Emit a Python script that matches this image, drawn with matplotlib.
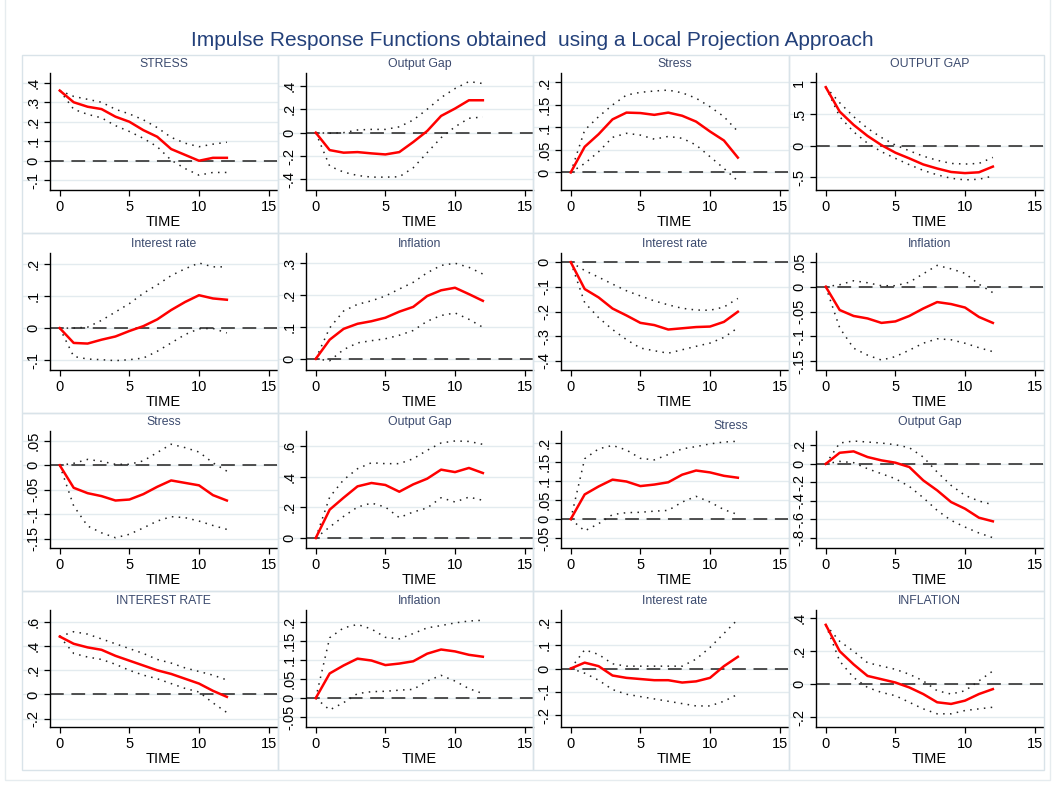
import matplotlib.pyplot as plt
import numpy as np
from matplotlib.patches import Rectangle
from matplotlib.ticker import FuncFormatter

plt.rcParams['font.family'] = ['Liberation Sans', 'DejaVu Sans']

# horizon
time = list(range(13))

# row 1
r1c1_mid = [0.36, 0.30, 0.277, 0.265, 0.226, 0.20, 0.157, 0.123, 0.06, 0.03, 0.0, 0.015, 0.015]
r1c1_hi = [0.36, 0.33, 0.315, 0.30, 0.264, 0.24, 0.21, 0.17, 0.12, 0.09, 0.072, 0.085, 0.095]
r1c1_lo = [0.36, 0.264, 0.238, 0.22, 0.18, 0.15, 0.115, 0.072, 0.003, -0.04, -0.074, -0.06, -0.06]

r1c2_mid = [0.0, -0.149, -0.171, -0.166, -0.177, -0.186, -0.166, -0.08, 0.014, 0.143, 0.206, 0.277, 0.277]
r1c2_hi = [0.0, -0.005, 0.0, 0.023, 0.028, 0.028, 0.05, 0.108, 0.2, 0.3, 0.377, 0.437, 0.42]
r1c2_lo = [0.0, -0.286, -0.337, -0.366, -0.38, -0.38, -0.377, -0.3, -0.171, -0.043, 0.05, 0.123, 0.134]

r1c3_mid = [0.0, 0.057, 0.085, 0.118, 0.133, 0.132, 0.128, 0.133, 0.126, 0.113, 0.091, 0.071, 0.033]
r1c3_hi = [0.0, 0.094, 0.124, 0.15, 0.172, 0.178, 0.181, 0.183, 0.177, 0.165, 0.146, 0.124, 0.091]
r1c3_lo = [0.0, 0.02, 0.046, 0.078, 0.087, 0.083, 0.074, 0.08, 0.076, 0.061, 0.035, 0.009, -0.019]

r1c4_mid = [0.926, 0.54, 0.33, 0.155, 0.01, -0.11, -0.2, -0.296, -0.36, -0.415, -0.433, -0.42, -0.33]
r1c4_hi = [0.93, 0.68, 0.46, 0.275, 0.13, 0.01, -0.08, -0.165, -0.23, -0.28, -0.29, -0.28, -0.185]
r1c4_lo = [0.93, 0.46, 0.22, 0.04, -0.095, -0.2, -0.3, -0.39, -0.46, -0.515, -0.54, -0.53, -0.48]

# row 2
r2c1_mid = [0.0, -0.046, -0.048, -0.036, -0.026, -0.009, 0.006, 0.027, 0.056, 0.081, 0.102, 0.092, 0.088]
r2c1_hi = [0.0, 0.0, 0.003, 0.024, 0.05, 0.076, 0.108, 0.134, 0.163, 0.184, 0.202, 0.19, 0.19]
r2c1_lo = [0.0, -0.088, -0.096, -0.098, -0.101, -0.098, -0.093, -0.072, -0.046, -0.02, -0.002, -0.001, -0.015]

r2c2_mid = [0.0, 0.06, 0.094, 0.11, 0.118, 0.129, 0.148, 0.163, 0.197, 0.215, 0.223, 0.203, 0.182]
r2c2_hi = [0.0, 0.097, 0.15, 0.171, 0.182, 0.197, 0.219, 0.24, 0.27, 0.293, 0.3, 0.287, 0.266]
r2c2_lo = [0.0, -0.006, 0.029, 0.05, 0.057, 0.063, 0.074, 0.089, 0.118, 0.136, 0.144, 0.124, 0.099]

r2c3_mid = [0.0, -0.109, -0.143, -0.188, -0.216, -0.246, -0.255, -0.273, -0.268, -0.263, -0.261, -0.242, -0.201]
r2c3_hi = [0.0, -0.034, -0.061, -0.089, -0.116, -0.137, -0.157, -0.173, -0.187, -0.194, -0.195, -0.182, -0.147]
r2c3_lo = [0.0, -0.164, -0.225, -0.273, -0.314, -0.348, -0.359, -0.369, -0.355, -0.341, -0.328, -0.305, -0.266]

r2c4_mid = [0.0, -0.047, -0.059, -0.064, -0.073, -0.07, -0.059, -0.044, -0.031, -0.035, -0.042, -0.061, -0.073]
r2c4_hi = [0.0, 0.004, 0.012, 0.008, 0.002, 0.002, 0.009, 0.026, 0.043, 0.036, 0.027, 0.005, -0.012]
r2c4_lo = [0.0, -0.083, -0.124, -0.138, -0.148, -0.141, -0.128, -0.114, -0.105, -0.107, -0.114, -0.123, -0.131]

# row 3
r3c1_mid = [0.0, -0.046, -0.057, -0.063, -0.072, -0.07, -0.059, -0.044, -0.031, -0.036, -0.041, -0.061, -0.072]
r3c1_hi = [0.0, 0.004, 0.012, 0.008, 0.002, 0.002, 0.009, 0.026, 0.043, 0.036, 0.027, 0.005, -0.012]
r3c1_lo = [0.0, -0.083, -0.124, -0.138, -0.148, -0.141, -0.128, -0.114, -0.105, -0.107, -0.114, -0.123, -0.131]

r3c2_mid = [0.0, 0.185, 0.263, 0.337, 0.359, 0.346, 0.302, 0.35, 0.387, 0.446, 0.43, 0.457, 0.424]
r3c2_hi = [0.0, 0.267, 0.38, 0.452, 0.491, 0.485, 0.485, 0.517, 0.572, 0.62, 0.633, 0.63, 0.611]
r3c2_lo = [0.0, 0.072, 0.141, 0.202, 0.228, 0.202, 0.133, 0.17, 0.196, 0.263, 0.235, 0.267, 0.246]

r3c3_mid = [0.0, 0.065, 0.086, 0.104, 0.099, 0.087, 0.091, 0.097, 0.117, 0.128, 0.123, 0.114, 0.109]
r3c3_hi = [0.0, 0.159, 0.185, 0.194, 0.182, 0.16, 0.156, 0.17, 0.185, 0.191, 0.198, 0.203, 0.205]
r3c3_lo = [0.0, -0.031, -0.012, 0.012, 0.017, 0.018, 0.021, 0.023, 0.045, 0.06, 0.045, 0.025, 0.012]

r3c4_mid = [0.0, 0.12, 0.135, 0.074, 0.038, 0.013, -0.034, -0.178, -0.286, -0.412, -0.484, -0.581, -0.62]
r3c4_hi = [0.0, 0.225, 0.247, 0.236, 0.225, 0.207, 0.175, 0.074, -0.088, -0.232, -0.34, -0.401, -0.441]
r3c4_lo = [0.0, 0.027, 0.013, -0.052, -0.106, -0.16, -0.243, -0.365, -0.502, -0.61, -0.682, -0.746, -0.797]

# row 4
r4c1_mid = [0.48, 0.42, 0.39, 0.37, 0.32, 0.28, 0.24, 0.20, 0.17, 0.13, 0.09, 0.03, -0.02]
r4c1_hi = [0.48, 0.52, 0.50, 0.46, 0.42, 0.38, 0.34, 0.29, 0.26, 0.22, 0.19, 0.16, 0.12]
r4c1_lo = [0.48, 0.34, 0.31, 0.29, 0.25, 0.20, 0.16, 0.13, 0.09, 0.05, 0.02, -0.07, -0.15]

r4c2_mid = [0.0, 0.065, 0.086, 0.104, 0.099, 0.087, 0.091, 0.097, 0.117, 0.128, 0.123, 0.114, 0.109]
r4c2_hi = [0.0, 0.159, 0.185, 0.194, 0.182, 0.16, 0.156, 0.17, 0.185, 0.191, 0.198, 0.203, 0.205]
r4c2_lo = [0.0, -0.031, -0.012, 0.012, 0.017, 0.018, 0.021, 0.023, 0.045, 0.06, 0.045, 0.025, 0.012]

r4c3_mid = [0.0, 0.025, 0.01, -0.03, -0.04, -0.045, -0.05, -0.05, -0.06, -0.055, -0.04, 0.01, 0.05]
r4c3_hi = [0.0, 0.08, 0.06, 0.02, 0.01, 0.01, 0.01, 0.01, 0.01, 0.04, 0.09, 0.15, 0.21]
r4c3_lo = [0.0, -0.02, -0.05, -0.09, -0.11, -0.12, -0.13, -0.14, -0.15, -0.16, -0.16, -0.14, -0.11]

r4c4_mid = [0.36, 0.2, 0.12, 0.05, 0.03, 0.01, -0.02, -0.06, -0.11, -0.12, -0.1, -0.06, -0.03]
r4c4_hi = [0.36, 0.26, 0.2, 0.13, 0.11, 0.09, 0.06, 0.02, -0.04, -0.06, -0.04, 0.02, 0.08]
r4c4_lo = [0.36, 0.14, 0.04, -0.02, -0.05, -0.07, -0.11, -0.15, -0.18, -0.18, -0.16, -0.15, -0.14]

titles = [['STRESS', 'Output Gap', 'Stress', 'OUTPUT GAP'],
          ['Interest rate', 'Inflation', 'Interest rate', 'Inflation'],
          ['Stress', 'Output Gap', 'Stress', 'Output Gap'],
          ['INTEREST RATE', 'Inflation', 'Interest rate', 'INFLATION']]

yticks = [[[-0.1, 0, 0.1, 0.2, 0.3, 0.4], [-0.4, -0.2, 0, 0.2, 0.4],
           [0, 0.05, 0.1, 0.15, 0.2], [-0.5, 0, 0.5, 1]],
          [[-0.1, 0, 0.1, 0.2], [0, 0.1, 0.2, 0.3],
           [-0.4, -0.3, -0.2, -0.1, 0], [-0.15, -0.1, -0.05, 0, 0.05]],
          [[-0.15, -0.1, -0.05, 0, 0.05], [0, 0.2, 0.4, 0.6],
           [-0.05, 0, 0.05, 0.1, 0.15, 0.2], [-0.8, -0.6, -0.4, -0.2, 0, 0.2]],
          [[-0.2, 0, 0.2, 0.4, 0.6], [-0.05, 0, 0.05, 0.1, 0.15, 0.2],
           [-0.2, -0.1, 0, 0.1, 0.2], [-0.2, 0, 0.2, 0.4]]]

ylims = [[(-0.15, 0.45), (-0.49, 0.51), (-0.039, 0.221), (-0.70, 1.15)],
         [(-0.13, 0.233), (-0.035, 0.332), (-0.437, 0.037), (-0.168, 0.068)],
         [(-0.169, 0.07), (-0.065, 0.698), (-0.076, 0.232), (-0.908, 0.355)],
         [(-0.27, 0.70), (-0.076, 0.232), (-0.25, 0.25), (-0.26, 0.45)]]

series = [[(r1c1_mid, r1c1_hi, r1c1_lo), (r1c2_mid, r1c2_hi, r1c2_lo),
           (r1c3_mid, r1c3_hi, r1c3_lo), (r1c4_mid, r1c4_hi, r1c4_lo)],
          [(r2c1_mid, r2c1_hi, r2c1_lo), (r2c2_mid, r2c2_hi, r2c2_lo),
           (r2c3_mid, r2c3_hi, r2c3_lo), (r2c4_mid, r2c4_hi, r2c4_lo)],
          [(r3c1_mid, r3c1_hi, r3c1_lo), (r3c2_mid, r3c2_hi, r3c2_lo),
           (r3c3_mid, r3c3_hi, r3c3_lo), (r3c4_mid, r3c4_hi, r3c4_lo)],
          [(r4c1_mid, r4c1_hi, r4c1_lo), (r4c2_mid, r4c2_hi, r4c2_lo),
           (r4c3_mid, r4c3_hi, r4c3_lo), (r4c4_mid, r4c4_hi, r4c4_lo)]]


def stata_fmt(v, pos):
    # Stata drops the leading zero: .4, -.1
    s = f"{v:g}"
    if s in ('0', '-0'):
        return '0'
    return s.replace('0.', '.')


W, H = 1055, 785
fig = plt.figure(figsize=(W / 100, H / 100), dpi=100)
fig.patch.set_facecolor('white')

title_col = '#3b4a6e'
grid_col = '#e3ebef'
cell_col = '#d9e3e9'

# cell frames (pixels)
cell_x = [22, 278, 533, 789, 1044]
cell_y = [55, 233, 413, 591, 770]
for i in range(4):
    for j in range(4):
        x0, x1 = cell_x[j], cell_x[j + 1]
        y0, y1 = cell_y[i], cell_y[i + 1]
        fig.add_artist(Rectangle((x0 / W, 1 - y1 / H), (x1 - x0) / W, (y1 - y0) / H,
                                 transform=fig.transFigure, fill=False,
                                 edgecolor=cell_col, lw=1))
fig.add_artist(Rectangle((5 / W, 1 - 780 / H), 1045 / W, 790 / H,
                         transform=fig.transFigure, fill=False,
                         edgecolor='#e6ecef', lw=1))

ax_left = [50, 306, 561, 816]
ax_top = [73, 253, 431, 610]
ax_w, ax_h = 227, 117

for i in range(4):
    for j in range(4):
        ax = fig.add_axes([ax_left[j] / W, 1 - (ax_top[i] + ax_h) / H, ax_w / W, ax_h / H])
        ax.set_facecolor('none')
        mid, hi, lo = series[i][j]
        lo_y, hi_y = ylims[i][j]

        # light grid lines running over into the label area, Stata style
        for t in yticks[i][j]:
            ax.plot([-0.12, 1.0], [t, t], transform=ax.get_yaxis_transform(),
                    color=grid_col, lw=1, clip_on=False, zorder=0)

        ax.axhline(0, color='#222222', lw=1.1, dashes=(9, 5), zorder=1)
        ax.plot(time, hi, color='#222222', ls=(0, (1, 3.5)), lw=1.1, zorder=2)
        ax.plot(time, lo, color='#222222', ls=(0, (1, 3.5)), lw=1.1, zorder=2)
        ax.plot(time, mid, color='#ff0000', lw=1.8, zorder=3)

        ax.set_xlim(-0.7, 15.6)
        ax.set_ylim(lo_y, hi_y)
        ax.set_xticks([0, 5, 10, 15])
        ax.set_yticks(yticks[i][j])
        ax.yaxis.set_major_formatter(FuncFormatter(stata_fmt))
        ax.tick_params(axis='both', labelsize=10.5, length=4, width=0.9, pad=3)
        for lab in ax.get_yticklabels():
            lab.set_rotation(90)
            lab.set_va('center')
        ax.set_xlabel('TIME', fontsize=10.5, labelpad=1)
        ax.spines['top'].set_visible(False)
        ax.spines['right'].set_visible(False)
        ax.spines['left'].set_linewidth(1)
        ax.spines['bottom'].set_linewidth(1)

        tx = 0.75 if (i == 2 and j == 2) else 0.5
        ty = 1.04 if (i == 2 and j == 2) else 1.08
        ax.text(tx, ty, titles[i][j], transform=ax.transAxes, ha='center', va='center',
                fontsize=8.8, color=title_col)

fig.text(532 / W, 1 - 40 / H, 'Impulse Response Functions obtained  using a Local Projection Approach',
         ha='center', va='center', fontsize=15, color='#23407a')

fig.savefig('out.png', dpi=100, facecolor='white')
